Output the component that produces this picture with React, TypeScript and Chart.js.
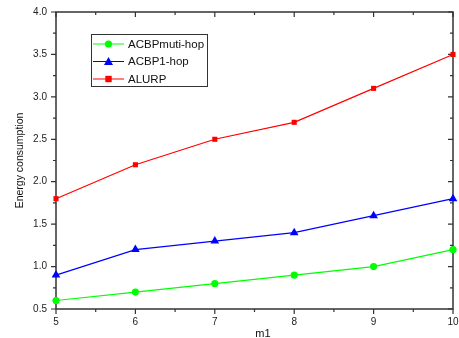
import React, { useEffect, useRef } from "react";
import { Chart, registerables } from "chart.js";

Chart.register(...registerables);

const xValues = [5, 6, 7, 8, 9, 10];
const muti = [0.6, 0.7, 0.8, 0.9, 1.0, 1.2];
const oneHop = [0.9, 1.2, 1.3, 1.4, 1.6, 1.8];
const alurp = [1.8, 2.2, 2.5, 2.7, 3.1, 3.5];
const seriesNames = ["ACBPmuti-hop", "ACBP1-hop", "ALURP"];
const seriesColors = ["#00ff00", "#0000ff", "#ff0000"];
const seriesStyles = ["circle", "triangle", "rect"];
const xTitle = "m1";
const yTitle = "Energy consumption";

const FONT = "'Liberation Sans', Arial, sans-serif";

function drawMarker(ctx: CanvasRenderingContext2D, style: string, x: number, y: number, color: string) {
  ctx.save();
  ctx.fillStyle = color;
  ctx.beginPath();
  if (style === "circle") {
    ctx.arc(x, y, 3.6, 0, Math.PI * 2);
  } else if (style === "triangle") {
    ctx.moveTo(x, y - 4.5);
    ctx.lineTo(x + 4.5, y + 3.5);
    ctx.lineTo(x - 4.5, y + 3.5);
    ctx.closePath();
  } else {
    ctx.rect(x - 3.2, y - 3.2, 6.4, 6.4);
  }
  ctx.fill();
  ctx.restore();
}

const framePlugin = {
  id: "frame",
  beforeDatasetsDraw(chart: any) {
    const { ctx, chartArea } = chart;
    const { left, right, top, bottom } = chartArea;
    const xs = chart.scales.x;
    const ys = chart.scales.y;
    ctx.save();
    ctx.strokeStyle = "#333";
    ctx.lineWidth = 1.5;
    ctx.strokeRect(left, top, right - left, bottom - top);
    ctx.lineWidth = 1.2;
    ctx.beginPath();
    for (let v = 5; v <= 10.001; v += 0.5) {
      const px = xs.getPixelForValue(v);
      const major = Math.abs(v - Math.round(v)) < 1e-6;
      const len = major ? 5 : 3;
      ctx.moveTo(px, bottom);
      ctx.lineTo(px, bottom + len);
      ctx.moveTo(px, top);
      ctx.lineTo(px, top + len);
    }
    for (let v = 0.5; v <= 4.001; v += 0.25) {
      const py = ys.getPixelForValue(v);
      const major = Math.abs(v * 2 - Math.round(v * 2)) < 1e-6;
      const len = major ? 5 : 3;
      ctx.moveTo(left, py);
      ctx.lineTo(left - len, py);
      ctx.moveTo(right, py);
      ctx.lineTo(right - len, py);
    }
    ctx.stroke();
    ctx.restore();
  },
  afterDraw(chart: any) {
    const { ctx } = chart;
    ctx.save();
    // x axis title
    ctx.fillStyle = "#111";
    ctx.font = "11px " + FONT;
    ctx.textAlign = "center";
    ctx.textBaseline = "middle";
    ctx.fillText(xTitle, 263, 334);
    // legend
    ctx.textAlign = "left";
    ctx.strokeStyle = "#333";
    ctx.lineWidth = 1;
    ctx.strokeRect(91.5, 34.5, 116, 52);
    const rows = [44, 61.5, 79];
    ctx.font = "11.5px " + FONT;
    for (let i = 0; i < 3; i++) {
      const y = rows[i];
      ctx.strokeStyle = seriesColors[i];
      ctx.lineWidth = 1;
      ctx.beginPath();
      ctx.moveTo(93, y);
      ctx.lineTo(124, y);
      ctx.stroke();
      drawMarker(ctx, seriesStyles[i], 108.5, y, seriesColors[i]);
      ctx.fillStyle = "#111";
      ctx.fillText(seriesNames[i], 128, y + 0.5);
    }
    ctx.restore();
  },
};

export default function App() {
  const ref = useRef<HTMLCanvasElement>(null);
  useEffect(() => {
    if (!ref.current) return;
    const all = [muti, oneHop, alurp];
    const chart = new Chart(ref.current, {
      type: "line",
      data: {
        datasets: all.map((arr, i) => ({
          label: seriesNames[i],
          data: arr.map((y, j) => ({ x: xValues[j], y })),
          borderColor: seriesColors[i],
          backgroundColor: seriesColors[i],
          borderWidth: 1.2,
          pointStyle: seriesStyles[i] as any,
          pointRadius: i === 0 ? 3.6 : i === 1 ? 5 : 3.6,
          pointBorderWidth: 0,
          tension: 0,
          clip: false as any,
        })),
      },
      options: {
        responsive: false,
        animation: false,
        devicePixelRatio: 1,
        layout: { padding: { left: 0, right: 6, top: 12, bottom: 0 } },
        plugins: { legend: { display: false }, tooltip: { enabled: false } },
        scales: {
          x: {
            type: "linear",
            min: 5,
            max: 10,
            grid: { display: false, drawTicks: false },
            border: { display: false },
            ticks: { stepSize: 1, padding: 7, color: "#222", font: { family: FONT, size: 10 } },
            title: { display: false },
            afterFit(scale: any) {
              scale.height = 29;
              scale.paddingLeft = 0;
              scale.paddingRight = 0;
            },
          },
          y: {
            type: "linear",
            min: 0.5,
            max: 4.0,
            grid: { display: false, drawTicks: false },
            border: { display: false },
            ticks: {
              stepSize: 0.5,
              padding: 9,
              color: "#222",
              font: { family: FONT, size: 10 },
              callback: (v: any) => Number(v).toFixed(1),
            },
            title: { display: true, text: yTitle, color: "#111", font: { family: FONT, size: 10.5, lineHeight: 1 }, padding: { top: 15, bottom: 0 } },
            afterFit(scale: any) {
              scale.width = 56;
              scale.paddingTop = 0;
              scale.paddingBottom = 0;
            },
          },
        },
      },
      plugins: [framePlugin],
    });
    return () => chart.destroy();
  }, []);
  return (
    <div style={{ position: "absolute", left: 0, top: 0, width: 459, height: 338, background: "#fff" }}>
      <canvas ref={ref} width={459} height={338} />
    </div>
  );
}
